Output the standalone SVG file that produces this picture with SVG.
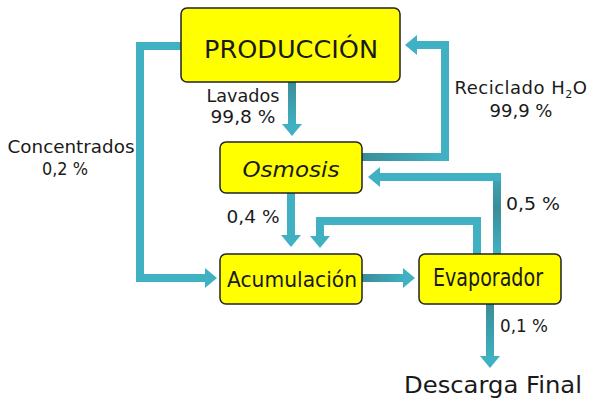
<svg xmlns="http://www.w3.org/2000/svg" width="591" height="403" viewBox="0 0 591 403">
<style>
.box{fill:#ffff00;stroke:#222;stroke-width:1.5}
.t{font-family:"DejaVu Sans","Liberation Sans",sans-serif;fill:#1a1a1a;text-anchor:middle}
.c{fill:none;stroke-width:8;stroke-linejoin:miter}
</style>
<defs>
<marker id="ah" viewBox="0 0 12 20" refX="0" refY="10" markerWidth="12" markerHeight="20" markerUnits="userSpaceOnUse" orient="auto">
<path d="M0,0 L12,10 L0,20 Z" fill="#40b1c2"/>
</marker>
<linearGradient id="gv1" gradientUnits="userSpaceOnUse" x1="0" y1="82" x2="0" y2="130"><stop offset="0" stop-color="#3a8d99"/><stop offset="1" stop-color="#41b5c6"/></linearGradient>
<linearGradient id="gh3" gradientUnits="userSpaceOnUse" x1="362" y1="0" x2="445" y2="0"><stop offset="0" stop-color="#3a8d99"/><stop offset="1" stop-color="#41b3c4"/></linearGradient>
<linearGradient id="gv4" gradientUnits="userSpaceOnUse" x1="0" y1="254" x2="0" y2="177"><stop offset="0" stop-color="#41b3c4"/><stop offset="0.6" stop-color="#3a8d99"/><stop offset="1" stop-color="#3fa6b6"/></linearGradient>
<linearGradient id="gh7" gradientUnits="userSpaceOnUse" x1="362" y1="0" x2="410" y2="0"><stop offset="0" stop-color="#3a8d99"/><stop offset="1" stop-color="#41b5c6"/></linearGradient>
<linearGradient id="gv8" gradientUnits="userSpaceOnUse" x1="0" y1="304" x2="0" y2="366"><stop offset="0" stop-color="#3a8d99"/><stop offset="1" stop-color="#41b5c6"/></linearGradient>
</defs>
<rect width="591" height="403" fill="#ffffff"/>
<g id="connectors">
<path class="c" stroke="url(#gv1)" d="M292,82 V124" marker-end="url(#ah)"/>
<path class="c" stroke="#40b1c2" d="M181,46 H140 V278 H205" marker-end="url(#ah)"/>
<path class="c" stroke="url(#gh3)" d="M362,157 H445"/>
<path class="c" stroke="#40b1c2" d="M445,161 V45 H417" marker-end="url(#ah)"/>
<path class="c" stroke="url(#gv4)" d="M497,254 V177"/>
<path class="c" stroke="#40b1c2" d="M501,177 H380" marker-end="url(#ah)"/>
<path class="c" stroke="#40b1c2" d="M477,254 V221 H320 V236" marker-end="url(#ah)"/>
<path class="c" stroke="#40b1c2" d="M291,193 V235" marker-end="url(#ah)"/>
<path class="c" stroke="url(#gh7)" d="M362,278 H403" marker-end="url(#ah)"/>
<path class="c" stroke="url(#gv8)" d="M490,304 V356" marker-end="url(#ah)"/>
</g>
<g id="produccion">
<rect class="box" x="181" y="8" width="219" height="74" rx="6"/>
<text class="t" x="291" y="58" font-size="25" textLength="174" lengthAdjust="spacingAndGlyphs">PRODUCCIÓN</text>
</g>
<g id="osmosis">
<rect class="box" x="220" y="142" width="142" height="51" rx="6"/>
<text class="t" x="291" y="177" font-size="22" font-style="italic" textLength="97" lengthAdjust="spacingAndGlyphs">Osmosis</text>
</g>
<g id="acumulacion">
<rect class="box" x="220" y="254" width="142" height="50" rx="6"/>
<text class="t" x="292" y="287" font-size="21" textLength="130" lengthAdjust="spacingAndGlyphs">Acumulación</text>
</g>
<g id="evaporador">
<rect class="box" x="419" y="254" width="142" height="50" rx="6"/>
<text class="t" x="488" y="286" font-size="24" textLength="110" lengthAdjust="spacingAndGlyphs">Evaporador</text>
</g>
<g id="descarga">
<text class="t" x="493" y="393" font-size="23" textLength="178" lengthAdjust="spacingAndGlyphs">Descarga Final</text>
</g>
<g id="labels">
<text class="t" x="243" y="102" font-size="17" textLength="73" lengthAdjust="spacingAndGlyphs">Lavados</text>
<text class="t" x="243" y="123" font-size="17" textLength="65" lengthAdjust="spacingAndGlyphs">99,8 %</text>
<text class="t" x="71" y="153" font-size="17" textLength="127" lengthAdjust="spacingAndGlyphs">Concentrados</text>
<text class="t" x="65" y="175" font-size="17" textLength="46" lengthAdjust="spacingAndGlyphs">0,2 %</text>
<text class="t" x="521" y="94" font-size="18" letter-spacing="0.5">Reciclado H<tspan font-size="11" dy="4">2</tspan><tspan dy="-4">O</tspan></text>
<text class="t" x="521" y="117" font-size="17" textLength="63" lengthAdjust="spacingAndGlyphs">99,9 %</text>
<text class="t" x="253" y="223" font-size="17" textLength="53" lengthAdjust="spacingAndGlyphs">0,4 %</text>
<text class="t" x="533" y="210" font-size="17" textLength="54" lengthAdjust="spacingAndGlyphs">0,5 %</text>
<text class="t" x="524" y="332" font-size="17" textLength="48" lengthAdjust="spacingAndGlyphs">0,1 %</text>
</g>
</svg>
